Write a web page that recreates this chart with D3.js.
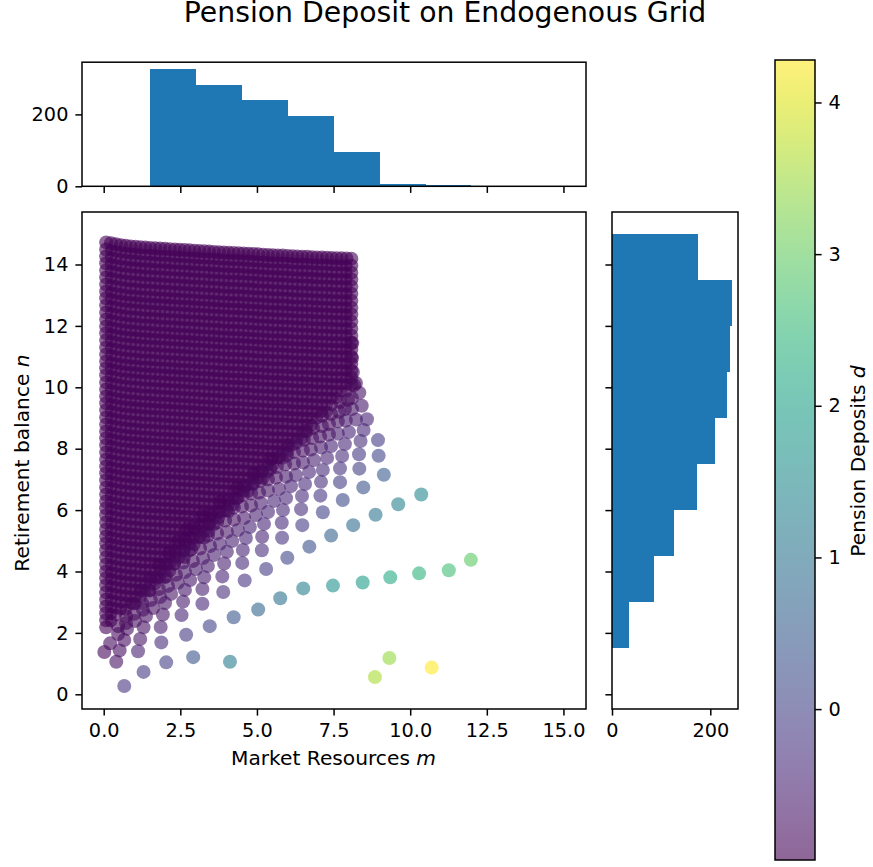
<!DOCTYPE html>
<html><head><meta charset="utf-8">
<script src="https://cdn.jsdelivr.net/npm/d3@7/dist/d3.min.js"></script>
<style>html,body{margin:0;padding:0;background:#fff}svg{display:block}text{font-family:"DejaVu Sans";fill:#000}</style>
</head><body><svg id="c" width="873" height="867"></svg>
<script>
// Histograms (counts per 1.5-wide bin)
const binEdges=[1.5,3,4.5,6,7.5,9,10.5,12,13.5,15];
const topCounts=[327,283,241,195,95,7,4,0,0];
const sideCounts=[35,85,126,173,210,234,241,244,175];
const xTicks=[0,2.5,5,7.5,10,12.5,15], yTicks=[0,2,4,6,8,10,12,14], cbTicks=[0,1,2,3,4];

// Sparse fan: each dot estimated individually, one line per visible ray
const fanM=[.67,1.30,2.04,2.92,4.12,
.41,1.12,1.88,2.69,3.46,4.24,5.04,5.76,6.51,7.48,8.45,9.35,10.29,11.26,11.98,
.02,.52,1.19,1.86,2.54,3.22,3.90,4.60,5.30,5.99,6.71,7.42,8.14,8.87,9.61,10.36,
.21,.67,1.30,1.93,2.59,3.22,3.87,4.52,5.16,5.82,6.48,7.15,7.80,8.47,9.14,
.76,1.38,2.00,2.65,3.28,3.93,4.54,5.17,5.81,6.44,7.07,7.71,8.34,8.97,
.47,1.02,1.61,2.20,2.82,3.40,4.02,4.64,5.23,5.85,6.47,7.09,7.71,8.33,8.95,
.73,1.28,1.84,2.42,3.01,3.60,4.19,4.77,5.36,5.95,6.57,7.15,7.78,8.38,
.47,.99,1.54,2.10,2.65,3.24,3.79,4.38,4.97,5.56,6.11,6.70,7.29,7.87,8.48,
.73,1.25,1.80,2.36,2.91,3.47,4.02,4.58,5.13,5.72,6.27,6.86,7.42,8.00,8.59,
.96,1.48,2.03,2.59,3.14,3.70,4.25,4.81,5.36,5.95,6.50,7.09,7.64,8.23,
1.22,1.74,2.29,2.85,3.40,3.96,4.51,5.07,5.62,6.21,6.76,7.35,7.90,8.42,
1.51,2.03,2.59,3.14,3.70,4.25,4.81,5.36,5.92,6.50,7.06,7.64,8.10,
1.80,2.33,2.88,3.44,3.99,4.54,5.10,5.65,6.21,6.80,7.35,7.87,8.34,
2.13,2.65,3.21,3.76,4.32,4.87,5.43,5.98,6.53,7.12,7.68,8.10,
2.42,2.95,3.50,4.06,4.61,5.16,5.72,6.27,6.83,7.42,7.97,8.23,
2.72,3.24,3.79,4.35,4.90,5.46,6.01,6.57,7.12,7.71,8.17,
8.13,8.10,8.11,
8.85,9.32,10.70];
const fanN=[.27,.73,1.04,1.21,1.06,
1.06,1.40,1.69,1.94,2.22,2.51,2.76,3.13,3.45,3.54,3.64,3.81,3.94,4.04,4.38,
1.38,1.43,1.80,2.19,2.58,2.95,3.33,3.71,4.08,4.45,4.81,5.17,5.51,5.85,6.19,6.51,
1.66,1.77,2.18,2.60,3.02,3.43,3.84,4.28,4.69,5.10,5.51,5.93,6.33,6.74,7.15,
2.13,2.55,2.97,3.40,3.81,4.26,4.70,5.13,5.59,6.03,6.47,6.91,7.35,7.77,
1.96,2.39,2.81,3.27,3.72,4.18,4.64,5.09,5.55,6.00,6.46,6.92,7.36,7.82,8.28,
2.32,2.75,3.17,3.63,4.08,4.54,4.99,5.45,5.94,6.39,6.85,7.31,7.76,8.25,
2.22,2.62,3.07,3.53,3.98,4.44,4.90,5.35,5.84,6.30,6.78,7.24,7.70,8.15,8.61,
2.55,2.97,3.43,3.89,4.34,4.83,5.29,5.74,6.23,6.69,7.14,7.63,8.09,8.54,8.96,
2.96,3.38,3.84,4.29,4.75,5.24,5.69,6.15,6.64,7.09,7.55,8.04,8.49,8.95,
3.38,3.80,4.26,4.72,5.17,5.66,6.12,6.57,7.06,7.52,7.97,8.46,8.92,9.40,
3.80,4.23,4.68,5.14,5.60,6.08,6.54,7.00,7.49,7.94,8.40,8.89,9.29,
4.21,4.64,5.09,5.55,6.00,6.49,6.95,7.40,7.89,8.35,8.80,9.29,9.82,
4.60,5.03,5.48,5.94,6.39,6.88,7.34,7.79,8.28,8.74,9.20,9.65,
4.99,5.42,5.87,6.33,6.78,7.27,7.73,8.19,8.67,9.13,9.59,10.14,
5.38,5.81,6.26,6.72,7.18,7.66,8.12,8.58,9.07,9.52,10.07,
10.50,10.95,11.44,
.56,1.18,.87];
const fanD=[-.2,-.15,0,.35,1.2,
-.75,-.55,-.35,-.15,.05,.4,.7,1.0,1.25,1.65,1.9,2.2,2.4,2.65,2.95,
-.9,-.8,-.7,-.6,-.5,-.4,-.3,-.2,-.1,.1,.3,.6,.85,1.05,1.3,1.45,
-.85,-.8,-.75,-.7,-.6,-.55,-.45,-.35,-.3,-.2,-.1,.05,.2,.35,.5,
-.8,-.75,-.7,-.65,-.6,-.55,-.5,-.45,-.35,-.3,-.2,-.1,-.05,.1,
-.85,-.8,-.75,-.7,-.65,-.6,-.55,-.5,-.45,-.4,-.35,-.3,-.25,-.15,-.1,
-.85,-.8,-.75,-.7,-.65,-.6,-.55,-.5,-.45,-.4,-.35,-.35,-.3,-.3,
-.9,-.85,-.8,-.75,-.7,-.65,-.6,-.6,-.55,-.5,-.5,-.45,-.45,-.4,-.4,
-.9,-.85,-.85,-.8,-.75,-.7,-.7,-.65,-.6,-.6,-.55,-.55,-.5,-.5,-.5,
-.9,-.85,-.85,-.8,-.8,-.75,-.75,-.7,-.7,-.65,-.65,-.65,-.6,-.6,
-.9,-.9,-.85,-.85,-.8,-.8,-.75,-.75,-.75,-.7,-.7,-.7,-.65,-.65,
-.9,-.9,-.85,-.85,-.85,-.8,-.8,-.8,-.75,-.75,-.75,-.7,-.7,
-.95,-.9,-.9,-.9,-.85,-.85,-.85,-.8,-.8,-.8,-.8,-.75,-.75,
-.95,-.95,-.9,-.9,-.9,-.85,-.85,-.85,-.85,-.8,-.8,-.8,
-.95,-.95,-.95,-.9,-.9,-.9,-.9,-.85,-.85,-.85,-.85,-.85,
-.97,-.97,-.97,-.95,-.95,-.95,-.9,-.9,-.9,-.9,-.9,
-.9,-.9,-.92,
3.6,3.45,4.28];

// Dense dark block: too overlapped to read dot by dot, so it is a table built from
// read column positions, row positions, top-edge sag per column and row extents.
const denseColM=[.08,.24,.40,.56,.72,.88,1.04,1.20,1.36,1.52,1.68,1.84,2.00,2.16,2.32,2.48,2.64,2.80,2.96,3.12,3.28,3.44,3.60,3.76,3.92,4.08,4.24,4.40,4.56,4.72,4.88,5.04,5.20,5.36,5.52,5.68,5.84,6.00,6.16,6.32,6.48,6.64,6.80,6.96,7.12,7.28,7.44,7.60,7.76,7.92,8.08];
const denseColSag=[0,.03,.06,.09,.11,.13,.14,.16,.17,.18,.19,.20,.21,.22,.23,.24,.25,.26,.27,.28,.29,.30,.31,.32,.33,.34,.345,.35,.36,.37,.38,.39,.40,.41,.42,.425,.43,.44,.45,.46,.465,.47,.48,.49,.495,.50,.51,.515,.52,.525,.53];
const denseRowN=[14.72,14.49,14.26,14.04,13.81,13.58,13.35,13.12,12.90,12.67,12.44,12.21,11.98,11.76,11.53,11.30,11.07,10.84,10.62,10.39,10.16,9.93,9.70,9.48,9.25,9.02,8.79,8.56,8.34,8.11,7.88,7.65,7.42,7.20,6.97,6.74,6.51,6.28,6.06,5.83,5.60,5.37,5.14,4.92,4.69,4.46,4.23,4.00,3.78,3.55,3.32,3.09,2.86,2.64,2.41,2.18];
const denseRowEndM=[8.08,8.08,8.08,8.08,8.08,8.08,8.08,8.08,8.08,8.08,8.08,8.08,8.08,8.08,8.08,8.08,8.08,8.08,8.08,7.95,7.75,7.55,7.3,7.1,6.9,6.7,6.5,6.3,6.1,5.85,5.65,5.45,5.2,5.0,4.8,4.55,4.35,4.15,3.9,3.7,3.5,3.3,3.1,2.85,2.65,2.45,2.25,2.0,1.8,1.55,1.3,1.05,.8,.55,.35,.2];
const denseD=-.97;

const edgeR=7, innerR=6.2;
const dots=[];
denseRowN.forEach((n,r)=>{
  denseColM.forEach((m,c)=>{
    if(m>denseRowEndM[r]) return;
    const edge=r===0||c===0||c===denseColM.length-1;
    dots.push({m,n:n-denseColSag[c],d:denseD,r:edge?edgeR:innerR});
  });
});
fanM.forEach((m,i)=>dots.push({m,n:fanN[i],d:fanD[i],r:edgeR}));

const svg=d3.select('#c');
const box={l:82,r:586,t:212,b:709}, topB={t:62.2,b:186.3}, sideB={l:612,r:738}, cb={l:775,r:815,t:60,b:860};
const x=d3.scaleLinear().domain([-.708,15.736]).range([box.l,box.r]);
const y=d3.scaleLinear().domain([-.479,15.71]).range([box.b,box.t]);
const hy=d3.scaleLinear().domain([0,345.2]).range([topB.b,topB.t]);
const hx=d3.scaleLinear().domain([0,256.4]).range([sideB.l,sideB.r]);
const dc=d3.scaleLinear().domain([-.995,4.28]).range([cb.b,cb.t]);
const col=d=>d3.interpolateViridis((d+.995)/5.275);
const fs=19.3, labelFs=20.2, tickLen=6.6, lw=1.5;

function axis(g,gen,lab){
  const a=g.call(gen); a.select('.domain').remove();
  a.selectAll('.tick line').attr('stroke','#000').attr('stroke-width',lw);
  a.selectAll('text').style('font-family','DejaVu Sans').style('font-size',fs+'px').attr('fill','#000');
  if(!lab) a.selectAll('text').remove();
  return a;
}
function frame(l,t,r,b){svg.append('rect').attr('x',l).attr('y',t).attr('width',r-l).attr('height',b-t).attr('fill','none').attr('stroke','#000').attr('stroke-width',lw);}

// scatter
svg.append('clipPath').attr('id','cp').append('rect').attr('x',box.l).attr('y',box.t).attr('width',box.r-box.l).attr('height',box.b-box.t);
svg.append('g').attr('clip-path','url(#cp)').selectAll('circle').data(dots).join('circle')
  .attr('cx',p=>x(p.m)).attr('cy',p=>y(p.n)).attr('r',p=>p.r).attr('fill',p=>col(p.d)).attr('fill-opacity',.6);
axis(svg.append('g').attr('transform',`translate(0,${box.b})`),d3.axisBottom(x).tickValues(xTicks).tickFormat(d3.format('.1f')).tickSize(tickLen).tickSizeOuter(0).tickPadding(8),true);
axis(svg.append('g').attr('transform',`translate(${box.l},0)`),d3.axisLeft(y).tickValues(yTicks).tickFormat(d3.format('d')).tickSize(tickLen).tickSizeOuter(0).tickPadding(7),true);
frame(box.l,box.t,box.r,box.b);

// top histogram
svg.append('g').attr('shape-rendering','crispEdges').selectAll('rect').data(topCounts).join('rect').attr('x',(v,i)=>x(binEdges[i])).attr('width',(v,i)=>x(binEdges[i+1])-x(binEdges[i]))
  .attr('y',v=>hy(v)).attr('height',v=>hy(0)-hy(v)).attr('fill','#1f77b4');
axis(svg.append('g').attr('transform',`translate(0,${topB.b})`),d3.axisBottom(x).tickValues(xTicks).tickSize(tickLen).tickSizeOuter(0),false);
axis(svg.append('g').attr('transform',`translate(${box.l},0)`),d3.axisLeft(hy).tickValues([0,200]).tickFormat(d3.format('d')).tickSize(tickLen).tickSizeOuter(0).tickPadding(7),true);
frame(box.l,topB.t,box.r,topB.b);

// side histogram
svg.append('g').attr('shape-rendering','crispEdges').selectAll('rect').data(sideCounts).join('rect').attr('x',hx(0)).attr('width',v=>hx(v)-hx(0))
  .attr('y',(v,i)=>y(binEdges[i+1])).attr('height',(v,i)=>y(binEdges[i])-y(binEdges[i+1])).attr('fill','#1f77b4');
axis(svg.append('g').attr('transform',`translate(0,${box.b})`),d3.axisBottom(hx).tickValues([0,200]).tickFormat(d3.format('d')).tickSize(tickLen).tickSizeOuter(0).tickPadding(8),true);
axis(svg.append('g').attr('transform',`translate(${sideB.l},0)`),d3.axisLeft(y).tickValues(yTicks).tickSize(tickLen).tickSizeOuter(0),false);
frame(sideB.l,box.t,sideB.r,box.b);

// colorbar
const grad=svg.append('defs').append('linearGradient').attr('id','vir').attr('x1',0).attr('x2',0).attr('y1',1).attr('y2',0);
d3.range(0,1.0001,.05).forEach(t=>grad.append('stop').attr('offset',t).attr('stop-color',d3.interpolateViridis(t)).attr('stop-opacity',.6));
svg.append('rect').attr('x',cb.l).attr('y',cb.t).attr('width',cb.r-cb.l).attr('height',cb.b-cb.t).attr('fill','url(#vir)');
axis(svg.append('g').attr('transform',`translate(${cb.r},0)`),d3.axisRight(dc).tickValues(cbTicks).tickFormat(d3.format('d')).tickSize(tickLen).tickSizeOuter(0).tickPadding(7),true);
frame(cb.l,cb.t,cb.r,cb.b);

// text
function label(xp,yp,txt,it,rot,size){
  const t=svg.append('text').attr('text-anchor','middle').attr('transform',`translate(${xp},${yp})`+(rot?` rotate(${rot})`:'')).style('font-size',size+'px');
  t.append('tspan').text(txt);
  if(it) t.append('tspan').style('font-style','italic').text(it);
}
label(445,22,'Pension Deposit on Endogenous Grid','',0,28.3);
label(333.5,765,'Market Resources ','m',0,labelFs);
label(29,463,'Retirement balance ','n',-90,labelFs);
label(865,461,'Pension Deposits ','d',-90,labelFs);
</script></body></html>
